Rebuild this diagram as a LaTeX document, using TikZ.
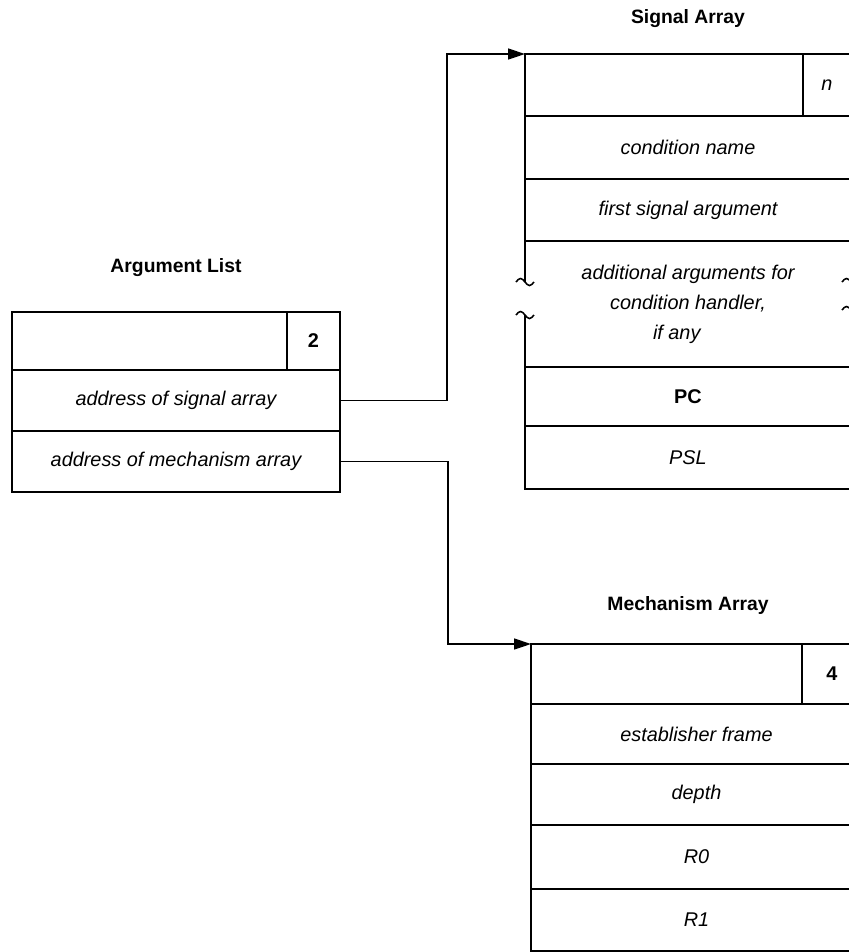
\documentclass[tikz,border=0pt]{standalone}
\usepackage{fontspec}
\setmainfont{Liberation Sans}
\usetikzlibrary{arrows.meta,positioning}
\begin{document}
\begin{tikzpicture}[node distance=0pt,
  every node/.style={align=center,outer sep=0pt,inner sep=0pt},
  lbl/.style={font=\fontsize{11.3}{17}\selectfont\itshape},
  num/.style={font=\fontsize{11.3}{17}\selectfont\bfseries},
  cell/.style={draw,line width=0.9pt},
  title/.style={font=\fontsize{11}{13}\selectfont\bfseries},
  link/.style={line width=0.9pt,-{Triangle[length=3.4mm,width=2.2mm]}},
  brk/.style={line width=0.9pt}]
\useasboundingbox (0,0) rectangle (16.98,-19.04);
\clip (0,0) rectangle (16.98,-19.04);
% argument list
\node[cell,minimum width=6.56cm,minimum height=1.16cm,anchor=north west] (a0) at (0.24,-6.24) {};
\node[cell,num,minimum width=1.06cm,minimum height=1.16cm,anchor=north east] (a1) at (a0.north east) {2};
\node[cell,lbl,minimum width=6.56cm,minimum height=1.22cm,below=of a0] (a2) {address of signal array};
\node[cell,lbl,minimum width=6.56cm,minimum height=1.22cm,below=of a2] (a3) {address of mechanism array};
\node[title,above=7mm of a0] (at) {Argument List};
% signal array
\node[cell,minimum width=6.52cm,minimum height=1.24cm,anchor=north west] (s0) at (10.5,-1.08) {};
\node[cell,lbl,minimum width=0.96cm,minimum height=1.24cm,anchor=north east] (s1) at (s0.north east) {n};
\node[cell,lbl,minimum width=6.52cm,minimum height=1.26cm,below=of s0] (s2) {condition name};
\node[cell,lbl,minimum width=6.52cm,minimum height=1.24cm,below=of s2] (s3) {first signal argument};
\node[lbl,minimum width=6.52cm,minimum height=2.52cm,below=of s3] (s4) {additional arguments for\\condition handler,\\if any\hspace*{0.45cm}};
\node[cell,num,minimum width=6.52cm,minimum height=1.18cm,below=of s4] (s5) {PC};
\node[cell,lbl,minimum width=6.52cm,minimum height=1.26cm,below=of s5] (s6) {PSL};
\node[title,above=5.3mm of s0] (st) {Signal Array};
% broken edges of the long entry
\draw[brk] (s4.north west) -- ++(0,-0.82) coordinate (k1);
\draw[brk] (s4.south west) -- ++(0,1.04) coordinate (k2);
\draw[brk] (s4.north east) -- ++(0,-0.82) coordinate (k3);
\draw[brk] (s4.south east) -- ++(0,1.14) coordinate (k4);
\foreach \k in {k1,k2,k3,k4}
  \draw[brk] (\k) ++(-0.18,0) sin ++(0.09,0.07) cos ++(0.09,-0.07) sin ++(0.09,-0.07) cos ++(0.09,0.07);
% mechanism array
\node[cell,minimum width=6.62cm,minimum height=1.2cm,anchor=north west] (m0) at (10.62,-12.88) {};
\node[cell,num,minimum width=1.2cm,minimum height=1.2cm,anchor=north east] (m1) at (m0.north east) {4};
\node[cell,lbl,minimum width=6.62cm,minimum height=1.2cm,below=of m0] (m2) {establisher frame};
\node[cell,lbl,minimum width=6.62cm,minimum height=1.22cm,below=of m2] (m3) {depth};
\node[cell,lbl,minimum width=6.62cm,minimum height=1.28cm,below=of m3] (m4) {R0};
\node[cell,lbl,minimum width=6.62cm,minimum height=1.24cm,below=of m4] (m5) {R1};
\node[title,above=5.9mm of m0,xshift=-1.7mm] (mt) {Mechanism Array};
% pointers
\draw[link] (a2.east) -- ++(2.14,0) |- (s0.north west);
\draw[link] (a3.east) -- ++(2.16,0) |- (m0.north west);
\end{tikzpicture}
\end{document}
